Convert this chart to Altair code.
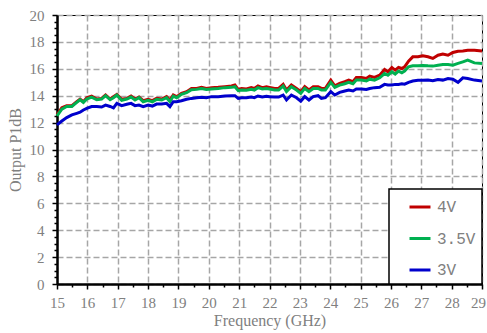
import altair as alt
import pandas as pd

freq = [15.0, 15.16, 15.32, 15.49, 15.65, 15.76, 15.87, 15.98, 16.14, 16.31, 16.47, 16.6, 16.75, 16.86, 16.97,
        17.13, 17.3, 17.44, 17.57, 17.7, 17.84, 18.0, 18.14, 18.28, 18.45, 18.61, 18.72, 18.83, 18.94,
        19.1, 19.27, 19.43, 19.6, 19.76, 19.92, 20.09, 20.31, 20.53, 20.75, 20.86, 20.97,
        21.08, 21.24, 21.4, 21.5, 21.62, 21.76, 21.9, 22.0, 22.17, 22.3, 22.45, 22.56, 22.72, 22.89,
        23.03, 23.16, 23.3, 23.44, 23.6, 23.71, 23.84, 24.02, 24.15, 24.31, 24.48, 24.61, 24.75, 24.86,
        25.03, 25.19, 25.3, 25.46, 25.63, 25.79, 25.9, 26.03, 26.14, 26.25, 26.36, 26.45, 26.58, 26.72,
        26.89, 27.05, 27.22, 27.38, 27.55, 27.71, 27.88, 28.04, 28.21, 28.37, 28.53, 28.75, 29.0]

v4 = [12.57, 13.1, 13.26, 13.26, 13.55, 13.75, 13.55, 13.85, 13.97, 13.75, 13.8, 14.05, 13.75, 13.93, 14.1,
      13.73, 13.8, 13.97, 13.75, 13.9, 13.63, 13.73, 13.63, 13.8, 13.75, 13.93, 13.68, 14.05, 13.93,
      14.17, 14.3, 14.54, 14.54, 14.62, 14.54, 14.6, 14.62, 14.67, 14.72, 14.8, 14.47,
      14.54, 14.5, 14.6, 14.54, 14.72, 14.6, 14.67, 14.62, 14.54, 14.54, 14.84, 14.42, 14.8, 14.54,
      14.3, 14.67, 14.42, 14.67, 14.67, 14.54, 14.54, 15.16, 14.74, 14.91, 15.04, 15.16, 15.04, 15.36,
      15.36, 15.28, 15.46, 15.36, 15.53, 15.95, 15.78, 16.1, 15.9, 16.1, 16.02, 16.15, 16.57, 16.89,
      16.89, 16.96, 16.89, 16.77, 17.01, 17.09, 17.01, 17.21, 17.31, 17.33, 17.38, 17.38, 17.33]

v35 = [12.5, 13.0, 13.2, 13.2, 13.5, 13.7, 13.5, 13.75, 13.9, 13.7, 13.75, 14.0, 13.7, 13.85, 14.05,
       13.65, 13.75, 13.9, 13.68, 13.85, 13.55, 13.65, 13.55, 13.73, 13.68, 13.85, 13.55, 13.97, 13.85,
       14.1, 14.22, 14.44, 14.47, 14.54, 14.47, 14.5, 14.54, 14.6, 14.62, 14.67, 14.37,
       14.42, 14.4, 14.47, 14.42, 14.6, 14.5, 14.54, 14.5, 14.42, 14.42, 14.72, 14.3, 14.67, 14.42,
       14.17, 14.54, 14.3, 14.54, 14.54, 14.42, 14.42, 14.99, 14.62, 14.79, 14.89, 14.99, 14.89, 15.16,
       15.16, 15.09, 15.23, 15.16, 15.33, 15.65, 15.53, 15.78, 15.6, 15.83, 15.7, 15.83, 16.15, 16.22,
       16.22, 16.25, 16.22, 16.2, 16.27, 16.32, 16.32, 16.27, 16.4, 16.52, 16.64, 16.44, 16.4]

v3 = [11.83, 12.12, 12.37, 12.57, 12.69, 12.77, 12.94, 13.06, 13.19, 13.19, 13.16, 13.3, 13.2, 13.1, 13.43,
      13.26, 13.36, 13.43, 13.26, 13.3, 13.19, 13.3, 13.23, 13.38, 13.38, 13.43, 13.19, 13.55, 13.55,
      13.63, 13.73, 13.8, 13.85, 13.88, 13.85, 13.93, 13.93, 13.98, 14.0, 14.0, 13.8,
      13.85, 13.85, 13.9, 13.85, 13.98, 13.9, 13.95, 13.93, 13.9, 13.9, 14.05, 13.68, 14.05, 13.85,
      13.6, 13.93, 13.68, 13.93, 14.0, 13.8, 13.85, 14.3, 14.05, 14.25, 14.35, 14.42, 14.35, 14.5,
      14.5, 14.47, 14.54, 14.6, 14.62, 14.84, 14.79, 14.79, 14.84, 14.84, 14.89, 14.86, 14.99, 15.09,
      15.14, 15.14, 15.16, 15.11, 15.21, 15.16, 15.28, 15.23, 14.99, 15.33, 15.28, 15.16, 15.09]

series_names = ["4V", "3.5V", "3V"]
series_colors = ["#c00000", "#00b050", "#0000cc"]
x_ticks = [15 + 0.5 * i for i in range(29)]
y_ticks = [0.5 * i for i in range(41)]

rows = []
for name, vals in zip(series_names, [v4, v35, v3]):
    for f, v in zip(freq, vals):
        rows.append({"freq": f, "p1db": v, "series": name})
df = pd.DataFrame(rows)

FONT = "Liberation Serif"
MONO = "Liberation Mono"
GRAY = "#808080"

x_axis = alt.Axis(
    values=x_ticks,
    labelExpr="datum.value % 1 === 0 ? format(datum.value, 'd') : ''",
    labelOverlap=False,
    labelFlush=False,
    labelOffset={"condition": {"test": "datum.value === 29", "value": -4}, "value": 0},
    tickSize={"condition": {"test": "datum.value % 1 !== 0", "value": 3}, "value": 5},
    gridOpacity={"condition": {"test": "datum.value % 1 !== 0", "value": 0}, "value": 1},
    title="Frequency (GHz)",
    titlePadding=2,
    labelPadding=6,
)
y_axis = alt.Axis(
    values=y_ticks,
    labelExpr="datum.value % 2 === 0 ? format(datum.value, 'd') : ''",
    labelOverlap=False,
    labelFlush=False,
    tickSize={"condition": {"test": "datum.value % 2 !== 0", "value": 3}, "value": 5},
    gridOpacity={"condition": {"test": "datum.value % 2 !== 0", "value": 0}, "value": 1},
    title="Output P1dB",
    titlePadding=6,
    labelPadding=8,
)

chart = alt.Chart(df).mark_line(strokeWidth=3).encode(
    x=alt.X("freq:Q", scale=alt.Scale(domain=[15, 29], nice=False, zero=False), axis=x_axis),
    y=alt.Y("p1db:Q", scale=alt.Scale(domain=[0, 20], nice=False), axis=y_axis),
    color=alt.Color("series:N", sort=series_names,
                    scale=alt.Scale(domain=series_names, range=series_colors),
                    legend=alt.Legend(title=None, orient="bottom-right", offset=0,
                                      symbolType="stroke", symbolSize=441, symbolStrokeWidth=3,
                                      symbolOffset=13, rowPadding=11.5, padding=6,
                                      labelFont=MONO, labelFontSize=16, labelColor=GRAY,
                                      labelOffset=5,
                                      fillColor="white", strokeColor="black")),
    detail="series:N",
).properties(
    width=425, height=269,
    padding={"left": 57, "top": 15, "right": 5, "bottom": 49},
    autosize=alt.AutoSizeParams(type="none"),
).configure(
    background="white",
).configure_view(
    stroke="black", strokeWidth=1,
).configure_legend(
    strokeWidth=1.5,
).configure_axis(
    labelFont=FONT, titleFont=FONT, labelFontSize=15, titleFontSize=16,
    labelColor=GRAY, titleColor=GRAY, titleFontWeight="normal",
    domainColor="black", domainWidth=2.5, tickColor="black", tickWidth=1.5,
    gridColor="#a6a6a6", gridDash=[6, 3], gridWidth=1.5,
)

chart.save("out.html", embed_options={"renderer": "svg", "actions": False})
